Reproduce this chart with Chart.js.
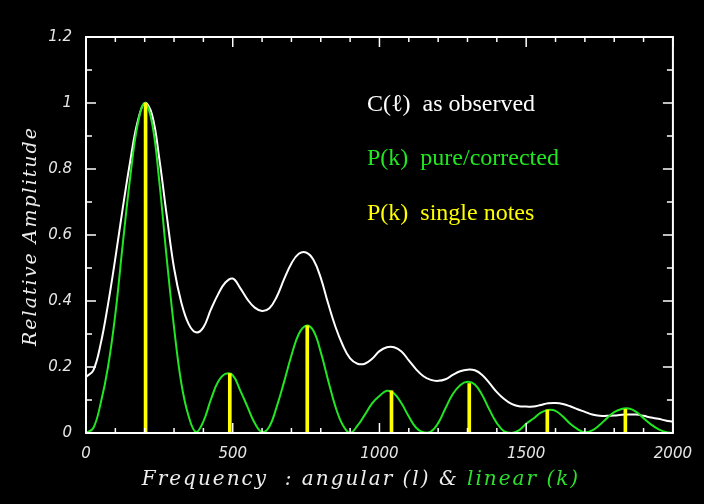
<!DOCTYPE html>
<html>
<head>
<meta charset="utf-8">
<script src="https://cdn.jsdelivr.net/npm/chart.js@4"></script>
<style>
  body { margin: 0; background: #000; }
  #wrap { position: relative; width: 704px; height: 504px; background: #000; overflow: hidden; }
  .lbl { position: absolute; white-space: pre; }
  #ytitle { left: 29px; top: 236px; transform: translate(-50%, -50%) rotate(-90deg);
            font: italic 19px "DejaVu Serif"; color: #eee; letter-spacing: 2px; }
  #xtitle { left: 361px; top: 478px; transform: translate(-50%, -50%);
            font: italic 20px "DejaVu Serif"; color: #eee; letter-spacing: 2px; }
  .leg { left: 367px; transform: translateY(-50%); font: 24px "Liberation Serif"; }
</style>
</head>
<body>
<div id="wrap">
  <canvas id="chart" width="704" height="504"></canvas>
  <div class="lbl" id="ytitle">Relative Amplitude</div>
  <div class="lbl" id="xtitle">Frequency  : angular (l) &amp; <span style="color:#2ee02e">linear (k)</span></div>
  <div class="lbl leg" style="top:103px;color:#fff">C(ℓ)  as observed</div>
  <div class="lbl leg" style="top:157px;color:#22e622">P(k)  pure/corrected</div>
  <div class="lbl leg" style="top:212px;color:#ffff00">P(k)  single notes</div>
</div>
<script>
// frekuensi sampel (sumbu x)
const freq = [0, 25, 50, 75, 100, 125, 150, 175, 200, 225, 250, 275, 300, 325, 350, 375, 400, 425, 450, 475,
              500, 525, 550, 575, 600, 625, 650, 675, 700, 725, 750, 775, 800, 825, 850, 875, 900, 925, 950, 975,
              1000, 1025, 1050, 1075, 1100, 1125, 1150, 1175, 1200, 1225, 1250, 1275, 1300, 1325, 1350, 1375, 1400, 1425, 1450, 1475,
              1500, 1525, 1550, 1575, 1600, 1625, 1650, 1675, 1700, 1725, 1750, 1775, 1800, 1825, 1850, 1875, 1900, 1925, 1950, 1975,
              2000];

// C(l) as observed (kurva putih)
const observed = [0.17, 0.19, 0.27, 0.39, 0.53, 0.68, 0.82, 0.94, 1.0, 0.965, 0.83, 0.66, 0.50, 0.395, 0.33, 0.305, 0.32, 0.373, 0.42, 0.456,
                  0.468, 0.44, 0.405, 0.38, 0.37, 0.378, 0.413, 0.466, 0.514, 0.543, 0.547, 0.525, 0.47, 0.393, 0.322, 0.266, 0.226, 0.21, 0.21, 0.225,
                  0.248, 0.26, 0.26, 0.247, 0.22, 0.193, 0.172, 0.161, 0.158, 0.163, 0.176, 0.187, 0.192, 0.19, 0.176, 0.151, 0.124, 0.103, 0.088, 0.081,
                  0.08, 0.08, 0.085, 0.09, 0.091, 0.088, 0.081, 0.072, 0.064, 0.056, 0.052, 0.052, 0.053, 0.055, 0.056, 0.056, 0.052, 0.047, 0.043, 0.038,
                  0.034];

// P(k) pure/corrected (kurva hijau)
const corrected = [0, 0.015, 0.09, 0.2, 0.36, 0.57, 0.77, 0.93, 1.0, 0.94, 0.76, 0.53, 0.32, 0.15, 0.05, 0.003, 0.035, 0.1, 0.155, 0.179,
                   0.175, 0.13, 0.08, 0.03, 0.003, 0.02, 0.08, 0.155, 0.235, 0.3, 0.325, 0.31, 0.245, 0.16, 0.08, 0.024, 0, 0.022, 0.055, 0.09,
                   0.112, 0.128, 0.12, 0.09, 0.05, 0.016, 0.002, 0.004, 0.03, 0.075, 0.118, 0.145, 0.155, 0.147, 0.115, 0.07, 0.03, 0.005, 0, 0.008,
                   0.028, 0.044, 0.062, 0.07, 0.067, 0.05, 0.028, 0.012, 0.002, 0.008, 0.024, 0.045, 0.063, 0.073, 0.074, 0.064, 0.045, 0.026, 0.012, 0.003,
                   0];

// P(k) single notes (garis kuning)
const noteFreq = [203, 490, 754, 1041, 1306, 1572, 1838];
const noteAmp  = [1.0, 0.18, 0.325, 0.128, 0.15, 0.07, 0.072];

const xLabels = [0, 500, 1000, 1500, 2000];
const yLabels = [0, 0.2, 0.4, 0.6, 0.8, 1, 1.2];

const toPoints = (xs, ys) => xs.map((x, i) => ({ x: x, y: ys[i] }));

// kotak + tick ke dalam di keempat sisi
const frame = {
    id: 'frame',
    afterDatasetsDraw(chart) {
        const { ctx, chartArea: a, scales: { x, y } } = chart;
        const seg = (x1, y1, x2, y2) => { ctx.beginPath(); ctx.moveTo(x1, y1); ctx.lineTo(x2, y2); ctx.stroke(); };
        ctx.save();
        ctx.strokeStyle = '#fff';
        ctx.lineWidth = 1.5;
        x.ticks.forEach(t => {
            const px = x.getPixelForValue(t.value);
            const len = xLabels.includes(t.value) ? 10 : 5;
            seg(px, a.bottom, px, a.bottom - len);
            seg(px, a.top, px, a.top + len);
        });
        y.ticks.forEach(t => {
            const py = y.getPixelForValue(t.value);
            const len = Math.round(t.value * 10) % 2 === 0 ? 10 : 6;
            seg(a.left, py, a.left + len, py);
            seg(a.right, py, a.right - len, py);
        });
        ctx.lineWidth = 2;
        ctx.strokeRect(a.left, a.top, a.width, a.height);
        ctx.restore();
    }
};

const tickFont = { family: 'DejaVu Sans', size: 15, style: 'italic' };

new Chart(document.getElementById('chart'), {
    type: 'line',
    data: {
        datasets: [
            { type: 'bar', label: 'P(k) single notes', data: toPoints(noteFreq, noteAmp),
              backgroundColor: '#ffff00', barThickness: 3, order: 0 },
            { label: 'P(k) pure/corrected', data: toPoints(freq, corrected),
              borderColor: '#22e622', borderWidth: 2, pointRadius: 0, tension: 0.4, order: 1 },
            { label: 'C(l) as observed', data: toPoints(freq, observed),
              borderColor: '#ffffff', borderWidth: 2, pointRadius: 0, tension: 0.4, order: 2 }
        ]
    },
    options: {
        responsive: false,
        animation: false,
        layout: { padding: { top: 37, right: 31, left: 0, bottom: 0 } },
        plugins: { legend: { display: false }, tooltip: { enabled: false } },
        scales: {
            x: {
                type: 'linear', min: 0, max: 2000, offset: false,
                grid: { display: false, drawTicks: false }, border: { display: false },
                ticks: { stepSize: 100, autoSkip: false, maxRotation: 0, minRotation: 0, padding: 12,
                         color: '#e6e6e6', font: tickFont,
                         callback: v => xLabels.includes(v) ? String(v) : '' },
                afterFit: s => { s.height = 71; }
            },
            y: {
                min: 0, max: 1.2,
                grid: { display: false, drawTicks: false }, border: { display: false },
                ticks: { stepSize: 0.1, autoSkip: false, padding: 14, color: '#e6e6e6', font: tickFont,
                         callback: v => { const k = Math.round(v * 10); return k % 2 ? '' : String(k / 10); } },
                afterFit: s => { s.width = 86; }
            }
        }
    },
    plugins: [frame]
});
</script>
</body>
</html>
